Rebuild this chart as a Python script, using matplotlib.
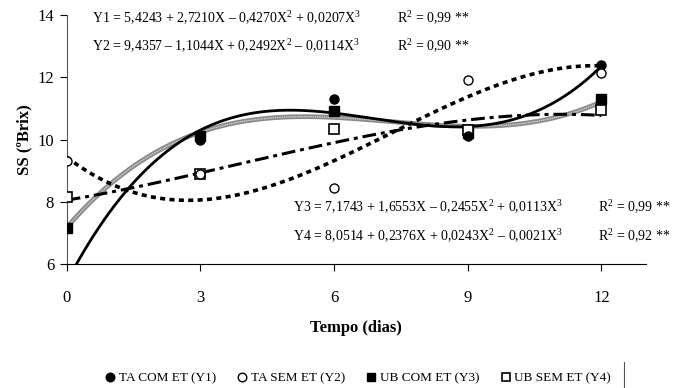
import numpy as np
import matplotlib.pyplot as plt
from matplotlib.lines import Line2D

plt.rcParams['font.family'] = ['Liberation Serif', 'DejaVu Serif']
plt.rcParams['mathtext.fontset'] = 'custom'
plt.rcParams['mathtext.rm'] = 'Liberation Serif'

# dados observados
dias = [0, 3, 6, 9, 12]
ta_com = [5.6, 10.0, 11.3, 10.1, 12.4]
ta_sem = [9.3, 8.9, 8.45, 11.9, 12.15]
ub_com = [7.15, 10.1, 10.9, 10.2, 11.3]
ub_sem = [8.15, 8.9, 10.35, 10.3, 10.95]

# coeficientes das regressões (b0, b1, b2, b3)
coef_y1 = [5.4243, 2.7210, -0.4270, 0.0207]
coef_y2 = [9.4357, -1.1044, 0.2492, -0.0114]
coef_y3 = [7.1743, 1.6553, -0.2455, 0.0113]
coef_y4 = [8.0514, 0.2376, 0.0243, -0.0021]

xticks = [0, 3, 6, 9, 12]
yticks = [6, 8, 10, 12, 14]

fig = plt.figure(figsize=(6.83, 3.88), dpi=100)
ax = fig.add_axes([0.0977, 0.3196, 0.848, 0.6417])

xs = np.linspace(0, 12, 200)
def curva(c):
    return c[0] + c[1] * xs + c[2] * xs**2 + c[3] * xs**3

# curvas ajustadas
ax.plot(xs, curva(coef_y3), color='#8a8a8a', lw=3.4, zorder=2)
ax.plot(xs, curva(coef_y3), color='#cfcfcf', lw=1.0, dashes=(1, 0.6), zorder=2)
ax.plot(xs, curva(coef_y1), color='black', lw=2.0, zorder=3)
ax.plot(xs, curva(coef_y2), color='black', lw=2.6, dashes=(1.4, 1.2), zorder=3)
ax.plot(xs, curva(coef_y4), color='black', lw=2.2, dashes=(4.5, 1.6, 1.3, 1.6), zorder=3)

# pontos
ax.plot(dias, ta_com, 'o', color='black', ms=6.5, zorder=5, label='TA COM ET (Y1)')
ax.plot(dias, ta_sem, 'o', mfc='white', mec='black', mew=1.0, ms=6.5, zorder=5, label='TA SEM ET (Y2)')
ax.plot(dias, ub_com, 's', color='black', ms=6.5, zorder=4, label='UB COM ET (Y3)')
ax.plot(dias, ub_sem, 's', mfc='white', mec='black', mew=1.2, ms=6.5, zorder=4, label='UB SEM ET (Y4)')

ax.set_xlim(0, 13)
ax.set_ylim(6, 14)
ax.set_xticks(xticks)
ax.set_yticks(yticks)
ax.tick_params(axis='both', direction='out', length=5, width=0.8, labelsize=12)
ax.tick_params(axis='x', pad=14)
ax.tick_params(axis='y', pad=4)
for s in ['top', 'right']:
    ax.spines[s].set_visible(False)
ax.spines['left'].set_color('#555555')
ax.spines['bottom'].set_color('black')

ax.set_xlabel('Tempo (dias)', fontsize=12, fontweight='bold', labelpad=10)
ax.set_ylabel('SS (ºBrix)', fontsize=12, fontweight='bold', labelpad=4)

# equações
fs = 10
ax.text(0.56, 13.9, r'Y1 = 5,4243 + 2,7210X – 0,4270X$^2$ + 0,0207X$^3$', fontsize=fs, va='center')
ax.text(7.42, 13.9, r'R$^2$ = 0,99 **', fontsize=fs, va='center')
ax.text(0.56, 13.0, r'Y2 = 9,4357 – 1,1044X + 0,2492X$^2$ – 0,0114X$^3$', fontsize=fs, va='center')
ax.text(7.42, 13.0, r'R$^2$ = 0,90 **', fontsize=fs, va='center')
ax.text(5.08, 7.82, r'Y3 = 7,1743 + 1,6553X – 0,2455X$^2$ + 0,0113X$^3$', fontsize=fs, va='center')
ax.text(11.92, 7.82, r'R$^2$ = 0,99 **', fontsize=fs, va='center', clip_on=False)
ax.text(5.08, 6.91, r'Y4 = 8,0514 + 0,2376X + 0,0243X$^2$ – 0,0021X$^3$', fontsize=fs, va='center')
ax.text(11.92, 6.91, r'R$^2$ = 0,92 **', fontsize=fs, va='center', clip_on=False)

handles, labels = ax.get_legend_handles_labels()
fig.legend(handles, labels, loc='center', bbox_to_anchor=(358 / 683, 1 - 378 / 388),
           ncol=4, frameon=False, fontsize=9.5, handlelength=0.8, handletextpad=0.25,
           columnspacing=1.6, markerscale=0.95)
fig.add_artist(Line2D([624 / 683, 624 / 683], [0, 26 / 388], color='#555555', lw=0.8))

fig.savefig('out.png', dpi=100)
